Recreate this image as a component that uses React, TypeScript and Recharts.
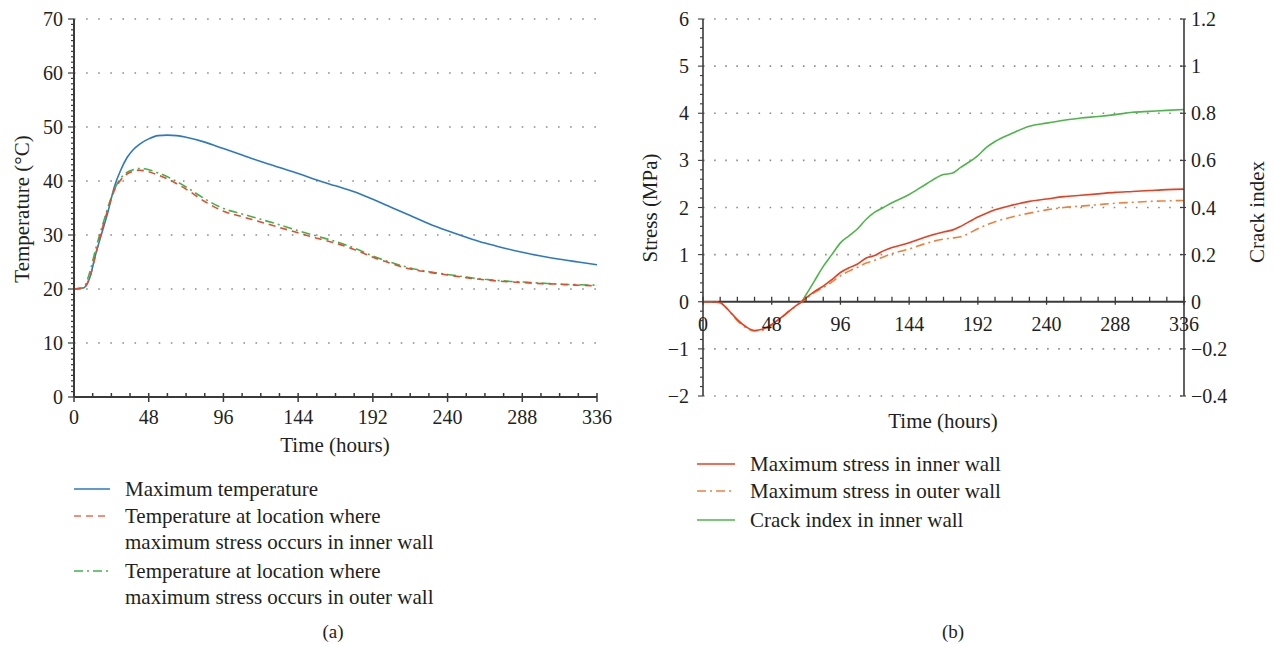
import React from 'react';
import { LineChart, Line, XAxis, YAxis, ReferenceLine } from 'recharts';

// ---------- Data: chart (a) ----------
const hoursA = [0, 6, 10, 14, 18, 22, 26, 30, 34, 38, 42, 48, 54, 60, 66, 72, 84, 96, 108, 120, 132, 144, 156, 168, 180, 192, 204, 216, 228, 240, 252, 264, 276, 288, 300, 312, 324, 336];
const maxTemperature = [20, 20.2, 22, 26.5, 30.5, 34.5, 39, 42, 44.3, 45.8, 46.8, 47.8, 48.4, 48.5, 48.4, 48.1, 47.2, 46, 44.8, 43.6, 42.5, 41.4, 40.2, 39.1, 38, 36.6, 35.1, 33.6, 32.1, 30.8, 29.6, 28.5, 27.6, 26.8, 26.1, 25.5, 25, 24.5];
const tempInnerWall = [20, 20.2, 22, 26.5, 31, 35, 38.3, 40.2, 41.3, 41.8, 42, 41.7, 41.1, 40.4, 39.5, 38.5, 36.2, 34.4, 33.4, 32.4, 31.4, 30.4, 29.4, 28.5, 27.3, 25.9, 24.7, 23.7, 23.1, 22.6, 22.1, 21.7, 21.4, 21.2, 21, 20.9, 20.7, 20.6];
const tempOuterWall = [20, 20.2, 23, 27.5, 31.5, 35.3, 38.5, 40.5, 41.6, 42.1, 42.3, 42.1, 41.5, 40.8, 39.9, 38.9, 36.7, 34.9, 33.9, 32.9, 31.9, 30.8, 29.8, 28.8, 27.6, 26.1, 24.9, 23.9, 23.2, 22.7, 22.2, 21.8, 21.5, 21.3, 21.1, 20.9, 20.8, 20.7];

// ---------- Data: chart (b) ----------
const hoursB = [0, 6, 12, 16, 20, 24, 30, 36, 42, 48, 54, 60, 66, 69, 72, 78, 84, 90, 96, 102, 108, 114, 120, 126, 132, 144, 156, 168, 174, 180, 192, 198, 204, 216, 228, 240, 252, 264, 276, 288, 300, 312, 324, 336];
const stressInner = [0, 0, -0.02, -0.12, -0.25, -0.38, -0.53, -0.61, -0.58, -0.48, -0.35, -0.2, -0.06, 0, 0.08, 0.22, 0.33, 0.47, 0.62, 0.72, 0.8, 0.93, 0.98, 1.08, 1.15, 1.25, 1.38, 1.48, 1.52, 1.6, 1.8, 1.88, 1.95, 2.05, 2.13, 2.18, 2.23, 2.26, 2.29, 2.32, 2.34, 2.36, 2.38, 2.39];
const stressOuter = [0, 0, -0.02, -0.12, -0.26, -0.4, -0.55, -0.62, -0.6, -0.5, -0.36, -0.21, -0.07, 0, 0.07, 0.2, 0.3, 0.42, 0.55, 0.65, 0.73, 0.82, 0.88, 0.95, 1.02, 1.12, 1.24, 1.33, 1.35, 1.38, 1.55, 1.63, 1.7, 1.8, 1.88, 1.95, 2.0, 2.03, 2.06, 2.09, 2.11, 2.13, 2.14, 2.15];
const crackIndex = [null, null, null, null, null, null, null, null, null, null, null, null, null, 0, 0.03, 0.09, 0.15, 0.2, 0.25, 0.28, 0.31, 0.35, 0.38, 0.4, 0.42, 0.455, 0.5, 0.54, 0.545, 0.57, 0.62, 0.655, 0.68, 0.715, 0.745, 0.758, 0.77, 0.78, 0.786, 0.794, 0.804, 0.808, 0.812, 0.816];

// ---------- Tick labels ----------
const timeMajorTicks = [0, 48, 96, 144, 192, 240, 288, 336];
const tempMajorTicks = [0, 10, 20, 30, 40, 50, 60, 70];
const stressMajorTicks = [-2, -1, 0, 1, 2, 3, 4, 5, 6];
const crackTicks = [-0.4, -0.2, 0, 0.2, 0.4, 0.6, 0.8, 1, 1.2];

const timeMinorTicks = Array.from({ length: 29 }, (_, i) => i * 12);
const tempMinorTicks = Array.from({ length: 71 }, (_, i) => i);
const stressMinorTicks = Array.from({ length: 41 }, (_, i) => Math.round((-2 + i * 0.2) * 100) / 100);

const dataA = hoursA.map((t, i) => ({ t, maxT: maxTemperature[i], inner: tempInnerWall[i], outer: tempOuterWall[i] }));
const dataB = hoursB.map((t, i) => ({ t, sIn: stressInner[i], sOut: stressOuter[i], crack: crackIndex[i] }));

const FONT = '"Liberation Serif", "DejaVu Serif", serif';
const TXT = '#231f20';
const AX = '#3a3a3a';
const GRID = '#8c8c8c';

const fmt = (v: number) => (v < 0 ? '\u2212' + String(Math.abs(v)) : String(v));
const isIn = (arr: number[], v: number) => arr.some((m) => Math.abs(m - v) < 1e-6);

// chart (b) vertical layout
const B_TOP = 19;
const B_PLOT_H = 377;
const S_MIN = -2;
const S_MAX = 6;

const XTickA = (props: any) => {
  const { x, y, payload } = props;
  const major = isIn(timeMajorTicks, payload.value);
  return (
    <g>
      <line x1={x} x2={x} y1={y - 4} y2={major ? y + 5 : y} stroke={AX} strokeWidth={1.5} />
      {major && (
        <text x={x} y={y + 27} textAnchor="middle" fontFamily={FONT} fontSize={20} fill={TXT}>
          {payload.value}
        </text>
      )}
    </g>
  );
};

const YTickA = (props: any) => {
  const { x, y, payload } = props;
  const major = isIn(tempMajorTicks, payload.value);
  return (
    <g>
      <line x1={major ? x - 6 : x - 3} x2={x} y1={y} y2={y} stroke={AX} strokeWidth={1.2} />
      {major && (
        <text x={x - 11} y={y + 7} textAnchor="end" fontFamily={FONT} fontSize={20} fill={TXT}>
          {payload.value}
        </text>
      )}
    </g>
  );
};

const XTickB = (props: any) => {
  const { x, y, payload } = props;
  const zeroY = y - (B_PLOT_H * (0 - S_MIN)) / (S_MAX - S_MIN);
  const major = isIn(timeMajorTicks, payload.value);
  return (
    <g>
      <line x1={x} x2={x} y1={zeroY - 5} y2={major ? zeroY + 3 : zeroY} stroke={AX} strokeWidth={1.3} />
      {major && (
        <text x={x} y={zeroY + 29} textAnchor="middle" fontFamily={FONT} fontSize={20} fill={TXT}>
          {payload.value}
        </text>
      )}
    </g>
  );
};

const YTickBLeft = (props: any) => {
  const { x, y, payload } = props;
  const major = isIn(stressMajorTicks, payload.value);
  return (
    <g>
      <line x1={major ? x - 5 : x - 3} x2={x} y1={y} y2={y} stroke={AX} strokeWidth={1.1} />
      {major && (
        <text x={x - 14} y={y + 7} textAnchor="end" fontFamily={FONT} fontSize={20} fill={TXT}>
          {fmt(payload.value)}
        </text>
      )}
    </g>
  );
};

const YTickBRight = (props: any) => {
  const { x, y, payload } = props;
  return (
    <g>
      <line x1={x - 4} x2={x + 2} y1={y} y2={y} stroke={AX} strokeWidth={1.1} />
      <text x={x + 7} y={y + 7} textAnchor="start" fontFamily={FONT} fontSize={20} fill={TXT}>
        {fmt(payload.value)}
      </text>
    </g>
  );
};

const abs = (left: number, top: number, extra: any = {}) => ({ position: 'absolute' as const, left, top, ...extra });

const RotTitle = ({ cx, cy, text }: { cx: number; cy: number; text: string }) => (
  <div
    style={{
      position: 'absolute',
      left: cx,
      top: cy,
      transform: 'translate(-50%, -50%) rotate(-90deg)',
      whiteSpace: 'nowrap',
      fontSize: 21,
      color: TXT,
    }}
  >
    {text}
  </div>
);

const LegendRow = ({ left, top, color, dash, lines, w }: any) => (
  <div style={abs(left, top, { display: 'flex', alignItems: 'flex-start' })}>
    <svg width={w} height={26} style={{ flex: 'none' }}>
      <line x1={0} x2={w - 2} y1={13} y2={13} stroke={color} strokeWidth={1.6} strokeDasharray={dash} />
    </svg>
    <div style={{ marginLeft: 13, fontSize: 21, lineHeight: '26px', color: TXT, whiteSpace: 'nowrap' }}>
      {lines.map((l: string, i: number) => (
        <div key={i}>{l}</div>
      ))}
    </div>
  </div>
);

export default function App() {
  return (
    <div style={{ position: 'absolute', left: 0, top: 0, width: 1275, height: 645, background: '#fff', fontFamily: FONT, overflow: 'hidden' }}>
      {/* Chart (a) */}
      <div style={abs(0, 0)}>
        <LineChart width={620} height={460} data={dataA} margin={{ top: 19, right: 23, left: 0, bottom: 0 }}>
          <XAxis
            dataKey="t"
            type="number"
            domain={[0, 336]}
            ticks={timeMinorTicks}
            interval={0}
            tickSize={0}
            tickMargin={0}
            height={63}
            axisLine={{ stroke: AX, strokeWidth: 2 }}
            tickLine={false}
            tick={<XTickA />}
          />
          <YAxis
            type="number"
            domain={[0, 70]}
            ticks={tempMinorTicks}
            interval={0}
            tickSize={0}
            tickMargin={0}
            width={74}
            axisLine={{ stroke: AX, strokeWidth: 2 }}
            tickLine={false}
            tick={<YTickA />}
          />
          {tempMajorTicks.filter((v) => v !== 0).map((v) => (
            <ReferenceLine key={v} y={v} stroke={GRID} strokeWidth={1.6} strokeDasharray="1.6 10.5" />
          ))}
          <Line type="monotone" dataKey="maxT" stroke="#2b78c6" strokeWidth={1.6} dot={false} isAnimationActive={false} />
          <Line type="monotone" dataKey="outer" stroke="#3fb44a" strokeWidth={1.6} strokeDasharray="9 4 2 4" dot={false} isAnimationActive={false} />
          <Line type="monotone" dataKey="inner" stroke="#ec4a2e" strokeWidth={1.6} strokeDasharray="7 5" dot={false} isAnimationActive={false} />
        </LineChart>
      </div>

      {/* Chart (b) */}
      <div style={abs(620, 0)}>
        <LineChart width={655} height={460} data={dataB} margin={{ top: B_TOP, right: 31, left: 0, bottom: 0 }}>
          <XAxis
            dataKey="t"
            type="number"
            domain={[0, 336]}
            ticks={timeMinorTicks}
            interval={0}
            tickSize={0}
            tickMargin={0}
            height={64}
            axisLine={false}
            tickLine={false}
            tick={<XTickB />}
          />
          <YAxis
            yAxisId="left"
            type="number"
            domain={[S_MIN, S_MAX]}
            ticks={stressMinorTicks}
            interval={0}
            tickSize={0}
            tickMargin={0}
            width={83}
            axisLine={{ stroke: AX, strokeWidth: 1.6 }}
            tickLine={false}
            tick={<YTickBLeft />}
          />
          <YAxis
            yAxisId="right"
            orientation="right"
            type="number"
            domain={[-0.4, 1.2]}
            ticks={crackTicks}
            interval={0}
            tickSize={0}
            tickMargin={0}
            width={60}
            axisLine={{ stroke: AX, strokeWidth: 1.6 }}
            tickLine={false}
            tick={<YTickBRight />}
          />
          {stressMajorTicks.filter((v) => v !== 0).map((v) => (
            <ReferenceLine key={v} yAxisId="left" y={v} stroke={GRID} strokeWidth={1.6} strokeDasharray="1.6 9.5" />
          ))}
          <ReferenceLine yAxisId="left" y={0} stroke={AX} strokeWidth={1.8} />
          <Line yAxisId="right" type="monotone" dataKey="crack" stroke="#4cb648" strokeWidth={1.6} dot={false} connectNulls={false} isAnimationActive={false} />
          <Line yAxisId="left" type="monotone" dataKey="sOut" stroke="#f0813a" strokeWidth={1.6} strokeDasharray="9 4 2 4" dot={false} isAnimationActive={false} />
          <Line yAxisId="left" type="monotone" dataKey="sIn" stroke="#ea3e1f" strokeWidth={1.6} dot={false} isAnimationActive={false} />
        </LineChart>
      </div>

      {/* Axis titles */}
      <RotTitle cx={22} cy={209} text="Temperature (°C)" />
      <div style={abs(335, 445, { transform: 'translate(-50%, -50%)', fontSize: 21, color: TXT, whiteSpace: 'nowrap' })}>Time (hours)</div>
      <RotTitle cx={650} cy={208} text="Stress (MPa)" />
      <RotTitle cx={1257} cy={212} text="Crack index" />
      <div style={abs(943, 421, { transform: 'translate(-50%, -50%)', fontSize: 21, color: TXT, whiteSpace: 'nowrap' })}>Time (hours)</div>

      {/* Legend (a) */}
      <LegendRow left={74} top={476} w={38} color="#2b78c6" lines={['Maximum temperature']} />
      <LegendRow left={74} top={503} w={38} color="#f06a4e" dash="7 5" lines={['Temperature at location where', 'maximum stress occurs in inner wall']} />
      <LegendRow left={74} top={558} w={38} color="#3fb44a" dash="9 4 2 4" lines={['Temperature at location where', 'maximum stress occurs in outer wall']} />

      {/* Legend (b) */}
      <LegendRow left={697} top={451} w={40} color="#ea3e1f" lines={['Maximum stress in inner wall']} />
      <LegendRow left={697} top={478} w={40} color="#f0813a" dash="9 4 2 4" lines={['Maximum stress in outer wall']} />
      <LegendRow left={697} top={507} w={40} color="#4cb648" lines={['Crack index in inner wall']} />

      {/* Captions */}
      <div style={abs(333, 632, { transform: 'translate(-50%, -50%)', fontSize: 19, color: TXT })}>(a)</div>
      <div style={abs(953, 632, { transform: 'translate(-50%, -50%)', fontSize: 19, color: TXT })}>(b)</div>
    </div>
  );
}
